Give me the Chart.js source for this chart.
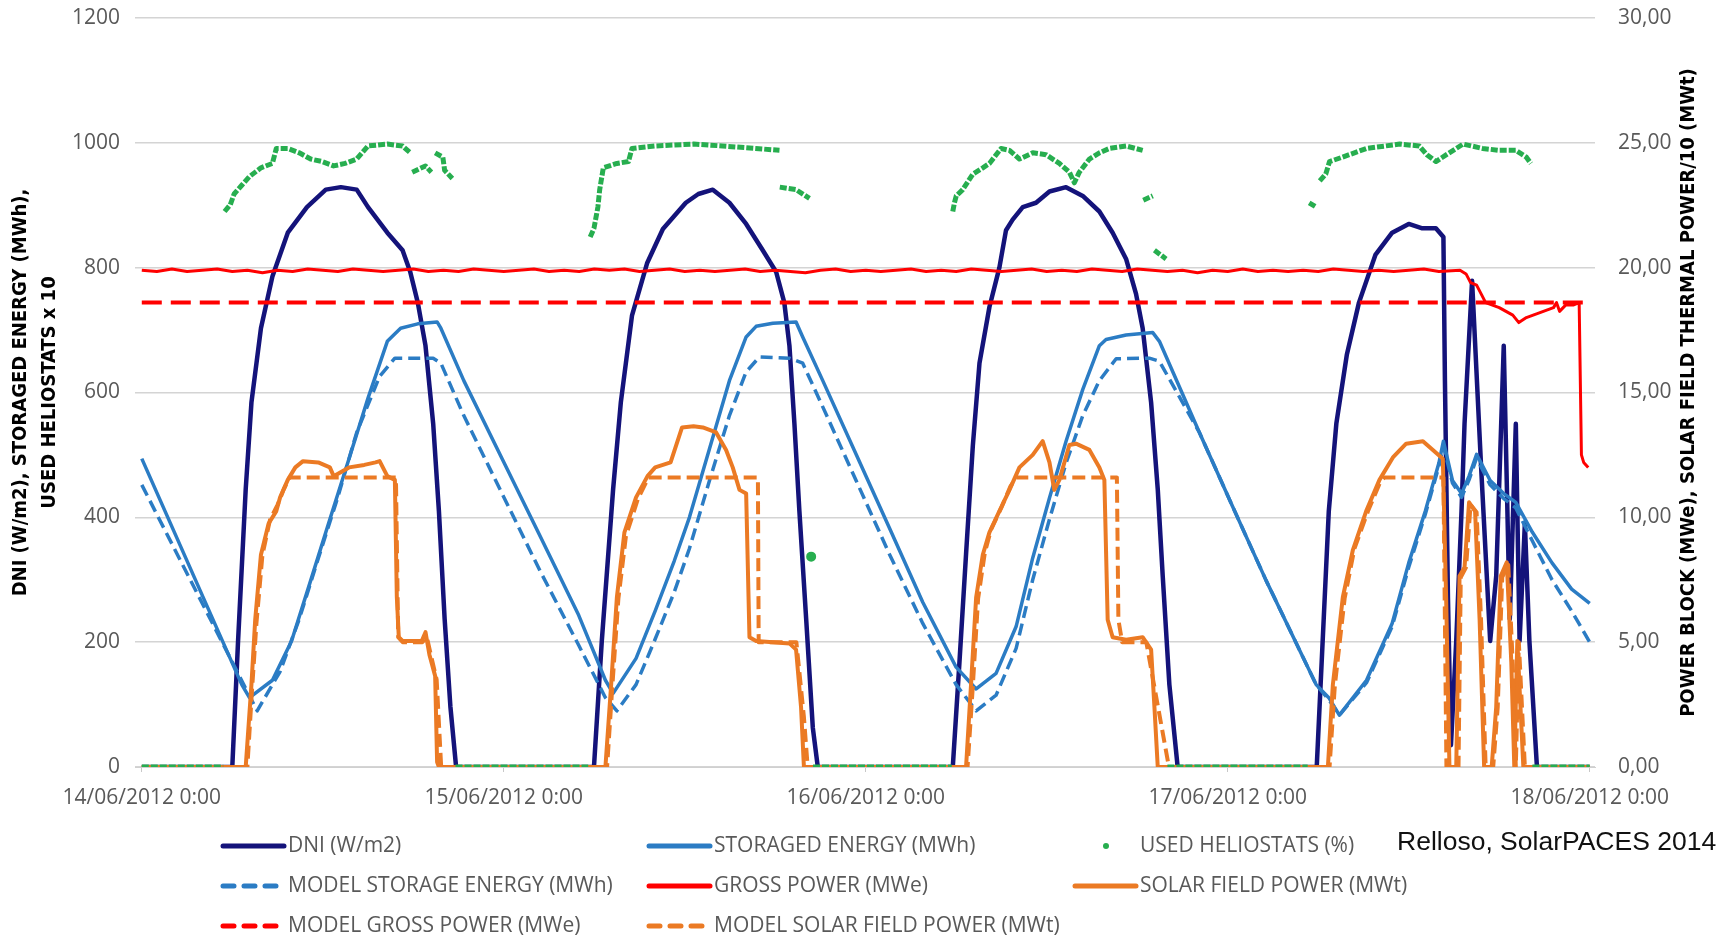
<!DOCTYPE html>
<html>
<head>
<meta charset="utf-8">
<script src="https://cdn.jsdelivr.net/npm/chart.js@4.4.0/dist/chart.umd.min.js"></script>
<style>
  html, body { margin: 0; padding: 0; background: #fff; }
  #wrap { position: relative; width: 1719px; height: 938px; }
</style>
</head>
<body>
<div id="wrap"><canvas id="myChart"></canvas></div>
<script>
// hours from 14/06/2012 0:00
const xTickHours = [0, 24, 48, 72, 96];
const xTickLabels = ['14/06/2012 0:00', '15/06/2012 0:00', '16/06/2012 0:00', '17/06/2012 0:00', '18/06/2012 0:00'];

// DNI (W/m2)
const dni = [
  [0,0],[6.0,0],[6.38,200],[6.89,445],[7.27,584],[7.9,703],[8.66,786],[9.68,856],[10.95,897],[12.2,925],[13.2,929],
  [14.25,925],[15.0,897],[16.28,856],[17.29,828],[17.8,793],[18.3,744],[18.81,675],[19.32,550],[19.7,410],[20.08,237],[20.46,97],[20.84,0],
  [29.98,0],[30.5,202],[31.25,445],[31.76,584],[32.5,723],[33.5,807],[34.55,862],[36.07,904],[36.9,918],[37.86,925],[38.96,904],
  [40.07,870],[41.17,828],[42.06,793],[42.6,744],[42.94,675],[43.27,550],[43.6,410],[44.05,237],[44.49,63],[44.82,0],
  [53.77,0],[54.21,167],[54.65,341],[55.1,515],[55.54,647],[56.2,737],[56.86,800],[57.3,860],[57.74,877],[58.41,897],[59.29,904],
  [60.18,922],[61.28,929],[62.39,915],[63.49,890],[64.37,856],[65.26,814],[65.92,758],[66.36,703],[66.92,584],[67.36,445],[67.69,306],[68.13,132],[68.68,0],
  [77.9,0],[78.7,410],[79.2,550],[79.9,661],[80.7,744],[81.8,821],[82.9,856],[84.0,870],[84.9,863],[85.8,863],[86.3,849],[86.4,619],
  [86.6,271],[86.8,35],[87.15,202],[87.5,410],[87.7,550],[88.2,779],[88.8,480],[89.4,202],[89.8,306],[90.3,675],[90.7,237],
  [91.1,550],[91.35,202],[91.7,390],[92.0,202],[92.5,0],[96,0]
];

// STORAGED ENERGY (MWh)
const storage = [
  [0,494],[6.63,132],[7.14,111],[8.66,139],[9.93,202],[11.2,299],[12.47,397],[13.74,494],[15.0,591],[16.28,682],[17.16,703],
  [18.3,710],[19.58,713],[19.83,703],[21.35,619],[23.89,494],[26.43,369],[28.97,243],[30.74,139],[31.25,118],[32.77,174],
  [34.04,250],[35.3,330],[36.31,400],[37.64,510],[38.96,619],[40.07,689],[40.73,706],[41.84,711],[43.38,713],[43.82,689],
  [45.15,619],[47.36,501],[49.57,383],[51.78,264],[53.99,160],[55.32,125],[56.64,150],[57.97,225],[59.07,335],[60.18,431],
  [61.28,522],[62.39,605],[63.49,675],[63.93,685],[65.26,692],[67.03,696],[67.47,682],[70.12,536],[72.33,417],[74.54,299],
  [76.75,188],[77.86,132],[78.7,111],[79.4,83],[81.2,139],[82.9,230],[84.0,327],[85.1,410],[86.0,487],[86.3,522],[86.9,459],
  [87.5,438],[88.0,466],[88.5,501],[89.4,459],[90.3,438],[91.1,424],[92.2,376],[93.5,327],[94.8,285],[96,262]
];

// MODEL STORAGE ENERGY (MWh)
const modelStorage = [
  [0,452],[7.65,90],[9.17,153],[10.44,237],[11.7,334],[12.98,431],[14.25,536],[15.77,626],[16.78,655],[19.32,655],[19.83,647],
  [21.35,563],[23.89,438],[26.43,313],[28.97,195],[30.74,111],[31.5,90],[32.77,132],[34.04,205],[35.3,280],[36.31,350],
  [37.64,459],[38.96,563],[40.07,633],[40.95,657],[42.94,655],[43.82,647],[45.15,577],[47.36,459],[49.57,341],[51.78,230],
  [53.99,132],[55.32,90],[56.64,115],[57.97,190],[59.07,300],[60.18,397],[61.28,487],[62.39,563],[63.49,619],[64.6,654],
  [66.8,655],[67.47,650],[70.12,536],[72.33,417],[74.54,299],[76.75,188],[77.86,132],[78.7,108],[79.4,83],[81.2,135],
  [82.9,225],[84.0,320],[85.1,405],[86.0,482],[86.3,515],[86.9,455],[87.5,432],[88.0,460],[88.5,495],[89.4,452],[90.3,430],
  [91.1,415],[92.2,362],[93.5,300],[94.8,250],[96,200]
];

// USED HELIOSTATS (%), null = gap between groups of dots
const heliostats = [
  [0,0],[5.4,0], null,
  [5.49,89.0],[5.87,90.1],[6.12,91.8],[6.63,93.2],[7.14,94.6],[7.9,96.0],[8.66,96.7],[8.92,99.1],[9.68,99.1],[10.44,98.4],
  [11.2,97.4],[11.96,97.0],[12.72,96.3],[13.48,96.7],[14.25,97.4],[15.0,99.5],[16.28,99.8],[17.29,99.5],[17.8,98.4], null,
  [17.93,95.3],[18.81,96.3],[19.2,95.3], null,
  [19.45,98.4],[19.96,97.7],[20.08,95.6],[20.59,94.3], null,
  [20.8,0],[29.6,0], null,
  [29.73,84.9],[29.98,86.3],[30.24,89.7],[30.36,92.5],[30.6,96.0],[31.5,96.7],[32.27,97.0],[32.5,99.1],[34.04,99.5],
  [36.58,99.8],[38.5,99.5],[40.7,99.1],[42.28,98.8], null,
  [42.3,92.9],[43.38,92.5],[44.27,91.1], null,
  [44.38,33.7], null,
  [44.5,0],[53.7,0], null,
  [53.77,89.0],[53.88,90.4],[54.0,91.5],[54.43,92.5],[55.1,95.0],[55.76,96.0],[56.2,96.7],[56.97,99.1],[57.53,98.8],
  [58.19,97.4],[59.07,98.4],[59.95,98.1],[60.84,96.7],[61.5,95.3],[61.83,93.6],[62.16,95.3],[62.83,97.4],[63.49,98.4],
  [64.15,99.1],[65.26,99.5],[66.36,98.8], null,
  [66.4,90.8],[67.03,91.5], null,
  [67.14,82.8],[67.91,81.4], null,
  [68.0,0],[77.3,0], null,
  [77.4,90.4],[77.87,89.7], null,
  [78.1,93.9],[78.5,95.0],[78.75,97.0],[79.6,97.7],[81.2,99.1],[83.4,99.8],[84.7,99.5],[85.2,98.1],[85.8,97.0],[86.5,98.1],
  [87.6,99.8],[88.9,99.1],[90.0,98.8],[91.1,98.8],[91.8,97.7],[92.1,96.7], null,
  [92.2,0],[96,0]
];

// GROSS POWER (MWe)
const grossPower = [
  [0,19.9],[1,19.85],[2,19.95],[3,19.85],[4,19.9],[5,19.95],[6,19.85],[7,19.9],[8,19.8],[9,19.9],[10,19.85],[11,19.95],
  [12,19.9],[13,19.85],[14,19.95],[15,19.9],[16,19.85],[17,19.9],[18,19.95],[19,19.85],[20,19.9],[21,19.85],[22,19.95],
  [23,19.9],[24,19.85],[25,19.9],[26,19.95],[27,19.85],[28,19.9],[29,19.85],[30,19.95],[31,19.9],[32,19.95],[33,19.85],
  [34,19.9],[35,19.95],[36,19.85],[37,19.9],[38,19.85],[39,19.9],[40,19.95],[41,19.85],[42,19.9],[43,19.85],[44,19.8],
  [45,19.9],[46,19.95],[47,19.85],[48,19.9],[49,19.85],[50,19.9],[51,19.95],[52,19.85],[53,19.9],[54,19.85],[55,19.95],
  [56,19.9],[57,19.85],[58,19.9],[59,19.95],[60,19.85],[61,19.9],[62,19.85],[63,19.95],[64,19.9],[65,19.85],[66,19.95],
  [67,19.9],[68,19.85],[69,19.9],[70,19.8],[71,19.9],[72,19.85],[73,19.95],[74,19.85],[75,19.9],[76,19.85],[77,19.9],
  [78,19.85],[79,19.95],[80,19.9],[81,19.85],[82,19.9],[83,19.85],[84,19.9],[85,19.95],[86,19.85],[87.4,19.9],
  [87.8,19.75],[88.1,19.4],[88.5,19.3],[88.8,18.95],[89.1,18.6],[90.0,18.4],[90.9,18.1],[91.3,17.8],[91.8,18.0],[92.7,18.2],
  [93.6,18.4],[93.8,18.6],[94.0,18.25],[94.4,18.5],[94.9,18.5],[95.3,18.6],[95.45,12.5],[95.6,12.2],[95.9,12.0]
];

// MODEL GROSS POWER (MWe)
const modelGrossPower = [[0,18.6],[96,18.6]];

// SOLAR FIELD POWER (MWt), plotted /10
const solarField = [
  [0,0],[6.89,0],[7.27,3.3],[7.52,5.9],[7.9,8.5],[8.41,9.75],[8.92,10.25],[9.17,10.8],[9.68,11.5],[10.18,12.0],[10.69,12.25],
  [11.7,12.2],[12.47,12.0],[12.72,11.65],[13.74,12.0],[14.75,12.1],[15.5,12.2],[15.77,12.25],[16.28,11.65],[16.78,11.5],
  [16.91,6.8],[17.04,5.2],[17.29,5.05],[18.56,5.05],[18.81,5.4],[19.07,4.5],[19.45,3.65],[19.58,0.2],[19.7,0],
  [30.74,0],[31.12,3.3],[31.5,6.8],[32.0,9.4],[32.77,10.8],[33.53,11.65],[34.04,12.0],[35.06,12.2],[35.82,13.6],[36.58,13.65],
  [37.2,13.6],[38.08,13.4],[38.74,12.7],[39.18,12.0],[39.63,11.1],[40.07,10.95],[40.29,5.2],[40.73,5.05],[42.94,4.95],
  [43.38,4.7],[43.71,2.4],[43.9,0],
  [54.65,0],[54.98,3.3],[55.32,6.8],[55.76,8.5],[56.2,9.4],[56.86,10.25],[57.53,11.1],[58.19,12.0],[59.07,12.5],[59.73,13.05],
  [60.18,12.2],[60.5,11.1],[60.84,11.5],[61.5,12.9],[61.94,12.95],[62.83,12.7],[63.49,12.0],[63.82,11.5],[64.04,5.9],
  [64.37,5.2],[65.26,5.1],[66.36,5.2],[66.92,4.7],[67.14,2.4],[67.36,0],
  [78.64,0],[78.97,3.3],[79.63,6.8],[80.3,8.7],[81.18,10.25],[82.06,11.5],[82.95,12.4],[83.83,12.95],[84.94,13.05],
  [85.6,12.7],[86.26,12.35],[86.48,6.8],[86.7,0],[87.15,0],[87.37,7.65],[87.7,8.0],[88.0,10.6],[88.4,10.25],[88.7,5.9],
  [89.0,0],[89.5,0],[89.8,2.4],[90.1,7.65],[90.5,8.2],[90.8,4.2],[91.0,0],[91.2,5.05],[91.6,0],[96,0]
];

// MODEL SOLAR FIELD POWER (MWt), plotted /10
const modelSolarField = [
  [0,0],[7.0,0],[7.3,3.0],[7.6,5.75],[8.0,8.5],[8.5,9.9],[9.0,10.5],[9.4,11.1],[9.8,11.6],[16.85,11.6],[17.0,5.2],[17.3,5.0],
  [18.6,5.0],[18.9,5.2],[19.2,4.4],[19.55,3.5],[19.85,0],
  [30.85,0],[31.2,3.25],[31.6,6.75],[32.1,9.25],[32.9,10.75],[33.6,11.6],[40.85,11.6],[40.9,5.0],[43.4,5.0],[43.9,2.0],[44.15,0],
  [54.75,0],[55.1,3.25],[55.45,6.75],[55.9,8.6],[56.3,9.5],[57.0,10.4],[57.6,11.25],[58.0,11.6],[64.65,11.6],[64.75,5.9],
  [65.0,5.0],[66.6,5.0],[67.2,3.0],[68.1,0],
  [78.75,0],[79.1,3.25],[79.75,6.75],[80.4,8.75],[81.3,10.25],[82.1,11.4],[82.4,11.6],[86.3,11.6],[86.5,0],[87.3,0],
  [87.45,7.6],[87.8,8.0],[88.1,10.5],[88.5,10.2],[88.8,5.8],[89.1,0],[89.6,0],[89.9,2.4],[90.2,7.6],[90.6,8.1],[90.9,4.1],
  [91.1,0],[91.3,5.0],[91.7,0],[96,0]
];

function toPoints(pairs, scale) {
  const out = [];
  let lastX = 0;
  pairs.forEach(p => {
    if (p) { lastX = p[0]; out.push({ x: p[0], y: p[1] * (scale || 1) }); }
    else out.push({ x: lastX, y: null });
  });
  return out;
}

const axisFont = { family: "'Open Sans', sans-serif", size: 21 };
const grey = '#595959';

const legendColX = [220, 646, 1072];
const legendRowY = [846, 886, 926];

const legendAndTitles = {
  id: 'legendAndTitles',
  afterDraw(chart) {
    const ctx = chart.ctx;
    chart.data.datasets.forEach((ds, i) => {
      const x = legendColX[i % 3], y = legendRowY[Math.floor(i / 3)];
      ctx.save();
      if (ds.dotLegend) {
        ctx.fillStyle = ds.borderColor;
        ctx.beginPath();
        ctx.arc(x + 34, y, 3, 0, Math.PI * 2);
        ctx.fill();
      } else {
        ctx.strokeStyle = ds.borderColor;
        ctx.lineWidth = 5;
        ctx.lineCap = 'round';
        ctx.setLineDash(ds.borderDash ? [11, 10] : []);
        ctx.beginPath();
        ctx.moveTo(x + 3, y);
        ctx.lineTo(x + 64, y);
        ctx.stroke();
      }
      ctx.fillStyle = grey;
      ctx.font = "21px 'Open Sans', sans-serif";
      ctx.textBaseline = 'middle';
      ctx.fillText(ds.label, x + 68, y);
      ctx.restore();
    });

    const area = chart.chartArea;
    const midY = (area.top + area.bottom) / 2;
    ctx.save();
    ctx.fillStyle = '#000';
    ctx.font = "bold 20px 'DejaVu Sans Condensed', sans-serif";
    ctx.textAlign = 'center';
    ctx.textBaseline = 'middle';
    [[21, 'DNI (W/m2), STORAGED ENERGY (MWh),'], [50, 'USED HELIOSTATS x 10'],
     [1689, 'POWER BLOCK (MWe), SOLAR FIELD THERMAL POWER/10 (MWt)']].forEach(([tx, txt]) => {
      ctx.save();
      ctx.translate(tx, midY);
      ctx.rotate(-Math.PI / 2);
      ctx.fillText(txt, 0, 0);
      ctx.restore();
    });
    ctx.restore();

    ctx.save();
    ctx.fillStyle = '#111';
    ctx.font = "26.5px 'Liberation Sans', Arial, sans-serif";
    ctx.textBaseline = 'alphabetic';
    ctx.fillText('Relloso, SolarPACES 2014', 1397, 850);
    ctx.restore();
  }
};

const noEdgePadding = (axis) => { axis.paddingTop = 0; axis.paddingBottom = 0; };

const ctx = document.getElementById('myChart');

new Chart(ctx, {
  type: 'line',
  data: {
    datasets: [
      { label: 'DNI (W/m2)', data: toPoints(dni), yAxisID: 'y', borderColor: '#14137a', borderWidth: 4.5, order: 8 },
      { label: 'STORAGED ENERGY (MWh)', data: toPoints(storage), yAxisID: 'y', borderColor: '#2b7cc4', borderWidth: 3.5, order: 7 },
      {
        label: 'USED HELIOSTATS (%)', data: toPoints(heliostats, 10), yAxisID: 'y', borderColor: '#27ae4f', backgroundColor: '#27ae4f',
        borderWidth: 5, borderDash: [7, 2], dotLegend: true, order: 0,
        pointRadius: (c) => {
          const d = c.dataset.data, i = c.dataIndex;
          return (d[i - 1] && d[i - 1].y === null && d[i + 1] && d[i + 1].y === null) ? 2.5 : 0;
        }
      },
      { label: 'MODEL STORAGE ENERGY (MWh)', data: toPoints(modelStorage), yAxisID: 'y', borderColor: '#2b7cc4', borderWidth: 3.5, borderDash: [12, 6], order: 5 },
      { label: 'GROSS POWER (MWe)', data: toPoints(grossPower), yAxisID: 'y2', borderColor: '#ff0000', borderWidth: 3, order: 4 },
      { label: 'SOLAR FIELD POWER (MWt)', data: toPoints(solarField), yAxisID: 'y2', borderColor: '#eb7a24', borderWidth: 4, order: 3 },
      { label: 'MODEL GROSS POWER (MWe)', data: toPoints(modelGrossPower), yAxisID: 'y2', borderColor: '#ff0000', borderWidth: 4, borderDash: [20, 9], order: 2 },
      { label: 'MODEL SOLAR FIELD POWER (MWt)', data: toPoints(modelSolarField), yAxisID: 'y2', borderColor: '#eb7a24', borderWidth: 4, borderDash: [13, 6], order: 1 }
    ]
  },
  options: {
    responsive: true,
    maintainAspectRatio: false,
    animation: false,
    events: [],
    layout: { padding: { top: 18, bottom: 121, left: 0, right: 0 } },
    elements: { point: { radius: 0 }, line: { tension: 0, borderJoinStyle: 'round' } },
    plugins: { legend: { display: false }, tooltip: { enabled: false } },
    scales: {
      x: {
        type: 'linear',
        min: -0.45,
        max: 96.35,
        afterBuildTicks: (axis) => { axis.ticks = xTickHours.map(v => ({ value: v })); },
        afterFit: (axis) => { axis.height = 50; },
        ticks: {
          autoSkip: false, maxRotation: 0, padding: 13, color: grey, font: axisFont,
          callback: (v) => xTickLabels[xTickHours.indexOf(v)]
        },
        grid: { drawOnChartArea: false, drawTicks: true, tickLength: 5, color: '#c8c8c8' },
        border: { display: true, color: '#d0d0d0' }
      },
      y: {
        position: 'left',
        min: 0,
        max: 1200,
        afterFit: (axis) => { axis.width = 135; noEdgePadding(axis); },
        ticks: { stepSize: 200, padding: 15, color: grey, font: axisFont, callback: (v) => String(v) },
        grid: { color: '#d4d4d4', lineWidth: 1.5, drawTicks: false },
        border: { display: false }
      },
      y2: {
        position: 'right',
        min: 0,
        max: 30,
        afterFit: (axis) => { axis.width = 124; noEdgePadding(axis); },
        ticks: { stepSize: 5, padding: 15, color: grey, font: axisFont, callback: (v) => v.toFixed(2).replace('.', ',') },
        grid: { display: false },
        border: { display: false }
      }
    }
  },
  plugins: [legendAndTitles]
});
</script>
</body>
</html>
